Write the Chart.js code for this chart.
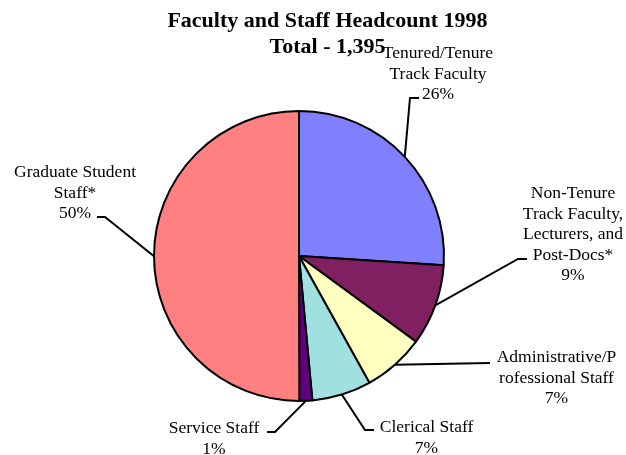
<!DOCTYPE html>
<html>
<head>
<meta charset="utf-8">
<script src="https://cdn.jsdelivr.net/npm/chart.js@4/dist/chart.umd.min.js"></script>
<style>
  html, body { margin: 0; padding: 0; background: #ffffff; }
  #wrap { width: 626px; height: 455px; }
</style>
</head>
<body>
<div id="wrap"><canvas id="c" width="626" height="455"></canvas></div>
<script>
// ---- data ----
const titleLines = ["Faculty and Staff Headcount 1998", "Total - 1,395"];
const categories = [
  "Tenured/Tenure Track Faculty",
  "Non-Tenure Track Faculty, Lecturers, and Post-Docs*",
  "Administrative/Professional Staff",
  "Clerical Staff",
  "Service Staff",
  "Graduate Student Staff*"
];
const labelLines = [
  ["Tenured/Tenure", "Track Faculty"],
  ["Non-Tenure", "Track Faculty,", "Lecturers, and", "Post-Docs*"],
  ["Administrative/P", "rofessional Staff"],
  ["Clerical Staff"],
  ["Service Staff"],
  ["Graduate Student", "Staff*"]
];
const headcounts = [363, 126, 96, 92, 20, 698];

// ---- styles ----
const sliceColors = ["#8080FF", "#802060", "#FFFFC0", "#A0E0E0", "#600080", "#FF8080"];
const FONT = "'Liberation Serif', 'Times New Roman', serif";
// label layout: leader elbow, leader end, text centre x, first baseline
const labelLayout = [
  { elbow: [410, 98],  end: [419, 98],  tx: 438,   ty: 58 },
  { elbow: [518, 259], end: [527, 259], tx: 573,   ty: 198 },
  { elbow: [490, 363], end: [490, 363], tx: 556.5, ty: 362 },
  { elbow: [365, 430], end: [374, 430], tx: 426.5, ty: 432 },
  { elbow: [275, 432], end: [267, 432], tx: 214,   ty: 433 },
  { elbow: [105, 217], end: [97, 217],  tx: 75,    ty: 177 }
];
const LINE_H = 20.5;

const labelPlugin = {
  id: 'labels',
  afterDatasetsDraw(chart) {
    const ctx = chart.ctx;
    const meta = chart.getDatasetMeta(0);
    const data = chart.data.datasets[0].data;
    const total = data.reduce((a, b) => a + b, 0);
    ctx.save();
    // title
    ctx.fillStyle = '#000';
    ctx.textAlign = 'center';
    ctx.textBaseline = 'alphabetic';
    ctx.font = "bold 22px " + FONT;
    ctx.fillText(titleLines[0], 327.5, 27);
    ctx.fillText(titleLines[1], 327.5, 53);
    // slice labels
    ctx.font = "17.5px " + FONT;
    meta.data.forEach((arc, i) => {
      const p = arc.getProps(['x', 'y', 'startAngle', 'endAngle', 'outerRadius'], true);
      const mid = (p.startAngle + p.endAngle) / 2;
      const ax = p.x + Math.cos(mid) * p.outerRadius;
      const ay = p.y + Math.sin(mid) * p.outerRadius;
      const L = labelLayout[i];
      ctx.strokeStyle = '#000';
      ctx.lineWidth = 2;
      ctx.beginPath();
      ctx.moveTo(ax, ay);
      ctx.lineTo(L.elbow[0], L.elbow[1]);
      ctx.lineTo(L.end[0], L.end[1]);
      ctx.stroke();
      const lines = labelLines[i].concat([Math.round(data[i] / total * 100) + "%"]);
      lines.forEach((t, k) => {
        ctx.fillText(t, L.tx, L.ty + k * LINE_H);
      });
    });
    ctx.restore();
  }
};

new Chart(document.getElementById('c'), {
  type: 'pie',
  data: {
    labels: categories,
    datasets: [{
      data: headcounts,
      backgroundColor: sliceColors,
      borderColor: '#000000',
      borderWidth: 2,
      hoverOffset: 0
    }]
  },
  options: {
    responsive: false,
    animation: false,
    events: [],
    layout: { padding: { top: 110, bottom: 53, left: 150, right: 178 } },
    plugins: {
      legend: { display: false },
      tooltip: { enabled: false },
      title: { display: false }
    }
  },
  plugins: [labelPlugin]
});
</script>
</body>
</html>
